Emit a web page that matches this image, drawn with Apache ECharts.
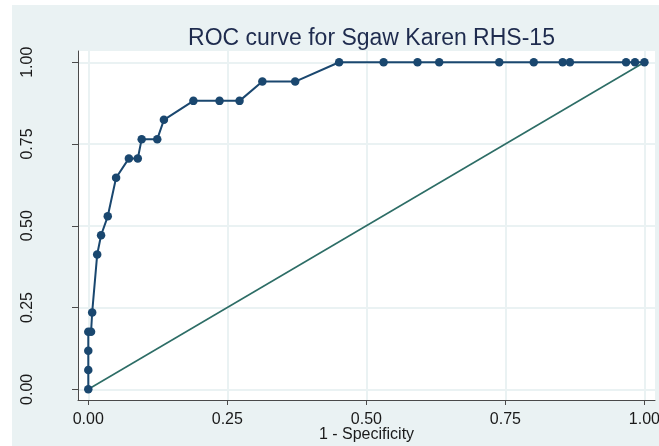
<!DOCTYPE html>
<html>
<head>
<meta charset="utf-8">
<script src="https://cdn.jsdelivr.net/npm/echarts@6/dist/echarts.min.js"></script>
<style>
html,body{margin:0;padding:0;background:#ffffff;}
#bg{position:absolute;left:12px;top:5px;width:647px;height:441px;background:#eaf2f3;}
#chart{position:absolute;left:0;top:0;width:659px;height:446px;}
</style>
</head>
<body>
<div id="bg"></div>
<div id="chart"></div>
<script>
// ROC curve points (1 - Specificity, Sensitivity)
var fpr = [0, 0, 0, 0, 0.005, 0.007, 0.016, 0.023, 0.035, 0.050, 0.073, 0.089, 0.096, 0.124, 0.136, 0.189, 0.236, 0.272, 0.313, 0.372, 0.451, 0.531, 0.592, 0.631, 0.739, 0.801, 0.853, 0.866, 0.967, 0.983, 1.0];
var tpr = [0, 0.059, 0.118, 0.176, 0.176, 0.235, 0.412, 0.471, 0.529, 0.647, 0.706, 0.706, 0.765, 0.765, 0.824, 0.882, 0.882, 0.882, 0.941, 0.941, 1, 1, 1, 1, 1, 1, 1, 1, 1, 1, 1];
var refX = [0, 1];
var refY = [0, 1];
var tickValues = [0, 0.25, 0.5, 0.75, 1];
var titleText = 'ROC curve for Sgaw Karen RHS-15';
var xName = '1 - Specificity';

var chart = echarts.init(document.getElementById('chart'), null, {renderer: 'canvas'});
var font = '"Liberation Sans", Arial, sans-serif';
function fmt(v){ return v.toFixed(2); }
var axisCommon = {
  type: 'value',
  axisLine: {show: true, onZero: false, lineStyle: {color: '#4a4a4a', width: 1}},
  axisTick: {show: true, inside: false, customValues: tickValues, lineStyle: {color: '#4a4a4a', width: 1}},
  splitLine: {show: true, lineStyle: {color: '#eaf2f3', width: 2}},
  axisLabel: {customValues: tickValues, formatter: fmt, color: '#1a1a1a', fontFamily: font, fontSize: 16}
};
chart.setOption({
  backgroundColor: 'transparent',
  animation: false,
  title: {
    text: titleText, left: 366.5, top: 22, textAlign: 'center',
    textStyle: {fontFamily: font, fontSize: 23, fontWeight: 'normal', color: '#1e2b4e'}
  },
  grid: {left: 78, right: 4, top: 51, bottom: 46, show: true, backgroundColor: '#ffffff', borderWidth: 0,
         containLabel: false, outerBoundsMode: 'none'},
  xAxis: Object.assign({}, axisCommon, {
    min: -0.0185, max: 1.019,
    axisTick: Object.assign({}, axisCommon.axisTick, {length: 5}),
    axisLabel: Object.assign({}, axisCommon.axisLabel, {margin: 12}),
    name: xName, nameLocation: 'middle', nameGap: 27, nameMoveOverlap: false,
    nameTextStyle: {fontFamily: font, fontSize: 16, color: '#1a1a1a'}
  }),
  yAxis: Object.assign({}, axisCommon, {
    min: -0.0327, max: 1.0345,
    axisTick: Object.assign({}, axisCommon.axisTick, {length: 6}),
    axisLabel: Object.assign({}, axisCommon.axisLabel, {rotate: 90, margin: 42})
  }),
  series: [
    {
      type: 'line', data: refX.map(function(x, i){ return [x, refY[i]]; }),
      symbol: 'none', lineStyle: {color: '#2d6d66', width: 1.6}, z: 2
    },
    {
      type: 'line', data: fpr.map(function(x, i){ return [x, tpr[i]]; }),
      symbol: 'circle', symbolSize: 8.5, showAllSymbol: true,
      itemStyle: {color: '#1a476f'}, lineStyle: {color: '#1a476f', width: 2}, z: 3
    }
  ]
});
</script>
</body>
</html>
